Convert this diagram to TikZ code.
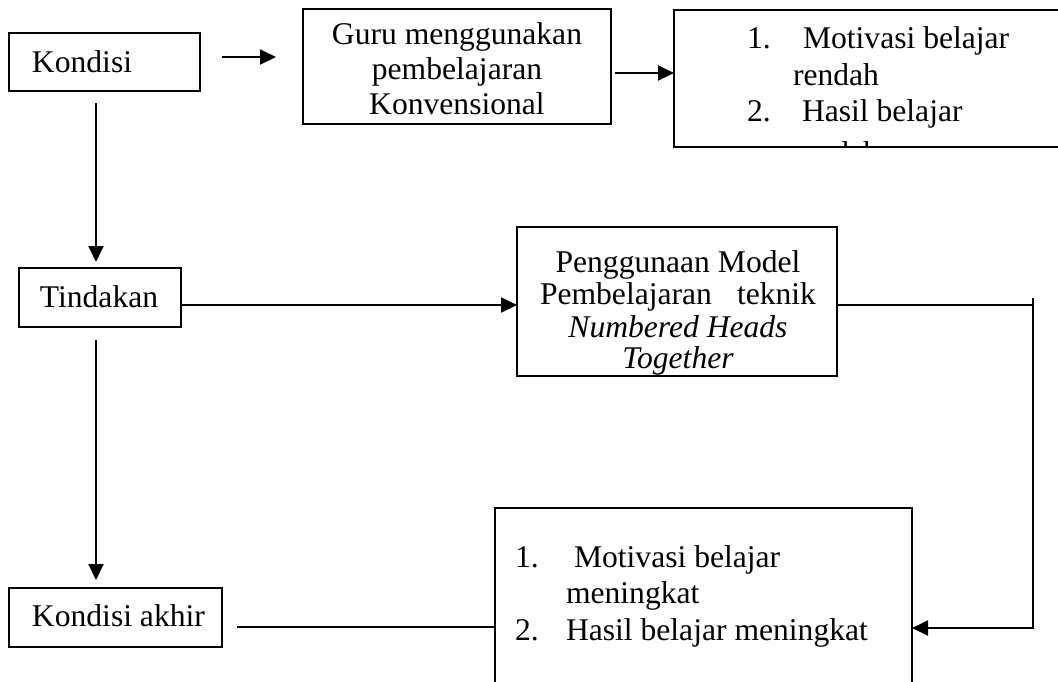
\documentclass[tikz,border=0pt]{standalone}
\usepackage{fontspec}
\setmainfont{Liberation Serif}
\usetikzlibrary{arrows.meta,fit}
\newcommand\tf{\fontsize{15.8}{18}\selectfont}
\begin{document}
\begin{tikzpicture}[x=0.5pt,y=-0.5pt,
  box/.style={draw,line width=1pt,rectangle,inner sep=0pt,outer sep=0pt},
  arr/.style={line width=1pt,-{Triangle[length=8pt,width=7.5pt]}},
  ln/.style={line width=1pt},
  txt/.style={inner sep=0pt,outer sep=0pt,font=\tf},
  tl/.style={txt,anchor=base west},
  tc/.style={txt,anchor=base}]
\useasboundingbox (0,0) rectangle (1058,681);
\fill[white] (0,0) rectangle (1058,681);
% boxes
\node[box,fit={(9,33) (200,91)}] (kond) {};
\node[box,fit={(303,9) (611,124)}] (guru) {};
\node[box,fit={(674,10) (1080,147)}] (tr) {};
\node[box,fit={(19,268) (181,327)}] (tind) {};
\node[box,fit={(517,227) (837,376)}] (peng) {};
\node[box,fit={(9,588) (222,647)}] (akhir) {};
\node[box,fit={(495,508) (912,700)}] (hasil) {};
% texts
\node[tl] (t1) at (32,72) {Kondisi};
\node[tc] (g1) at (457,44) {Guru menggunakan};
\node[tc] (g2) at (457,79) {pembelajaran};
\node[tc] (g3) at (457,114) {Konvensional};
\begin{scope}
\clip (675,11) rectangle (1080,146);
\node[tl] (r1a) at (747,48) {1.};
\node[tl] (r1b) at (803,48) {Motivasi belajar};
\node[tl] (r2) at (793,85) {rendah};
\node[tl] (r3a) at (747,121) {2.};
\node[tl] (r3b) at (802,121) {Hasil belajar};
\node[tl] (r4) at (793,163) {rendah};
\end{scope}
\node[tc] (ti) at (99,307) {Tindakan};
\node[tc] (p1) at (678,272) {Penggunaan Model};
\node[tc] (p2) at (678,304) {\makebox[138pt][s]{Pembelajaran teknik}};
\node[tc] (p3) at (678,337) {\itshape Numbered Heads};
\node[tc] (p4) at (678,368) {\itshape Together};
\node[tl] (ka) at (32,626) {Kondisi akhir};
\node[tl] (h1a) at (515,567) {1.};
\node[tl] (h1b) at (574,567) {Motivasi belajar};
\node[tl] (h2) at (566,603) {meningkat};
\node[tl] (h3a) at (515,640) {2.};
\node[tl] (h3b) at (566,640) {Hasil belajar meningkat};
% free ends
\coordinate (a1s) at (222,57);
\coordinate (a1e) at (276,57);
\coordinate (a2s) at (615,73);
\coordinate (v1s) at (96,103);
\coordinate (v1e) at (96,262);
\coordinate (v2s) at (96,340);
\coordinate (v2e) at (96,580);
\coordinate (rc) at (1033,305);
\coordinate (rt) at (1033,298);
\coordinate (rb) at (1033,628);
\coordinate (ls) at (237,627);
% connectors
\draw[arr] (a1s) -- (a1e);
\draw[arr] (a2s) -- (tr.west |- a2s);
\draw[arr] (v1s) -- (v1e);
\draw[arr] (tind.east |- rc) -- (peng.west |- rc);
\draw[ln] (peng.east |- rc) -- (rc);
\draw[arr] (rt) -- (rb) -- (hasil.east |- rb);
\draw[arr] (v2s) -- (v2e);
\draw[ln] (ls) -- (hasil.west |- ls);
\end{tikzpicture}
\end{document}
